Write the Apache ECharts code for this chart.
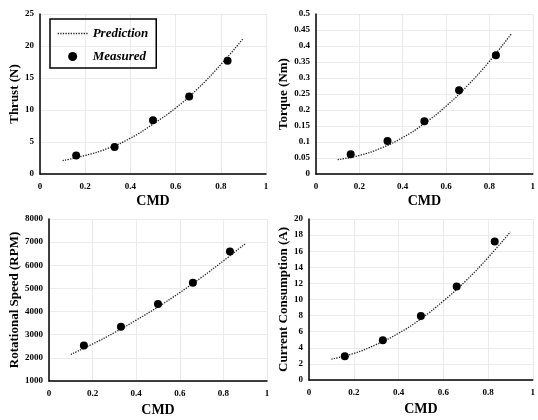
<!DOCTYPE html>
<html><head><meta charset="utf-8">
<script src="https://cdn.jsdelivr.net/npm/echarts@6/dist/echarts.min.js"></script>
<style>html,body{margin:0;padding:0;background:#fff}#c{width:538px;height:420px}</style>
</head><body><div id="c"></div>
<script>
// Measured data
const cmd = [0.16, 0.33, 0.5, 0.66, 0.83];
const thrust = [2.9, 4.2, 8.4, 12.1, 17.7];
const torque = [0.062, 0.103, 0.165, 0.262, 0.371];
const rpm = [2530, 3340, 4330, 5240, 6600];
const current = [2.95, 4.95, 7.95, 11.6, 17.2];
// Prediction curves
const cmdFit = [0.1, 0.2, 0.3, 0.4, 0.5, 0.6, 0.7, 0.8, 0.9];
const thrustFit = [2.1, 2.9, 4.0, 5.6, 7.8, 10.3, 13.4, 17.1, 21.2];
const torqueFit = [0.045, 0.058, 0.081, 0.114, 0.158, 0.212, 0.277, 0.352, 0.437];
const rpmFit = [2150, 2600, 3090, 3630, 4200, 4820, 5480, 6190, 6930];
const currentFit = [2.6, 3.3, 4.4, 5.8, 7.6, 9.8, 12.3, 15.2, 18.4];
// Axis settings
const yNames = ['Thrust (N)', 'Torque (Nm)', 'Rotational Speed (RPM)', 'Current Consumption (A)'];
const yMin = [0, 0, 1000, 0];
const yMax = [25, 0.5, 8000, 20];
const yInt = [5, 0.05, 1000, 2];

const font = '"Liberation Serif", "Times New Roman", serif';
const grids = [
  {left: 40, right: 272, top: 14, height: 160},
  {left: 316, right: 2, top: 14, height: 160},
  {left: 49, right: 271, top: 219, height: 162},
  {left: 309, right: 1, top: 219, height: 161}
];
const nameGaps = [18, 25, 24, 19];
const xNameGaps = [20, 20, 22, 22];
const pairs = [[thrust, thrustFit], [torque, torqueFit], [rpm, rpmFit], [current, currentFit]];

const xAxis = [], yAxis = [], series = [];
for (let i = 0; i < 4; i++) {
  xAxis.push({
    type: 'value', gridIndex: i, min: 0, max: 1, interval: 0.2,
    name: 'CMD', nameLocation: 'middle', nameGap: xNameGaps[i],
    nameTextStyle: {fontFamily: font, fontWeight: 'bold', fontSize: 14, color: '#000'},
    axisLine: {lineStyle: {color: '#000', width: 1.5}},
    axisTick: {show: false},
    axisLabel: {fontFamily: font, fontWeight: 'bold', fontSize: 9, color: '#000', margin: 8},
    splitLine: {show: true, lineStyle: {color: '#ebebeb', width: 1}}
  });
  yAxis.push({
    type: 'value', gridIndex: i, min: yMin[i], max: yMax[i], interval: yInt[i],
    name: yNames[i], nameLocation: 'middle', nameGap: nameGaps[i],
    nameTextStyle: {fontFamily: font, fontWeight: 'bold', fontSize: 13, color: '#000'},
    axisLine: {show: true, lineStyle: {color: '#000', width: 1.5}},
    axisTick: {show: false},
    axisLabel: {fontFamily: font, fontWeight: 'bold', fontSize: 9, color: '#000', margin: 6,
      formatter: v => String(v)},
    splitLine: {show: true, lineStyle: {color: '#ebebeb', width: 1}}
  });
  series.push({
    name: 'Prediction', type: 'line', xAxisIndex: i, yAxisIndex: i,
    data: cmdFit.map((x, k) => [x, pairs[i][1][k]]),
    smooth: true, symbol: 'none',
    itemStyle: {color: '#222'},
    lineStyle: {type: 'dotted', color: '#222', width: 1.3}, z: 2
  });
  series.push({
    name: 'Measured', type: 'scatter', xAxisIndex: i, yAxisIndex: i,
    data: cmd.map((x, k) => [x, pairs[i][0][k]]),
    symbol: 'circle', symbolSize: 8,
    itemStyle: {color: '#000', opacity: 1}, z: 3
  });
}

const chart = echarts.init(document.getElementById('c'), null, {renderer: 'canvas'});
chart.setOption({
  animation: false,
  backgroundColor: '#fff',
  grid: grids,
  xAxis, yAxis, series,
  legend: {
    data: [
      {name: 'Prediction', itemStyle: {opacity: 0}, lineStyle: {type: 'dotted', color: '#222', width: 1.3}},
      {name: 'Measured'}
    ],
    orient: 'vertical', left: 50, top: 19,
    padding: [8, 8, 5, 7],
    borderColor: '#000', borderWidth: 1.5,
    itemWidth: 30, itemHeight: 9, itemGap: 10,
    textStyle: {fontFamily: font, fontWeight: 'bold', fontStyle: 'italic', fontSize: 13, color: '#000'},
    selectedMode: false
  }
});
</script></body></html>
